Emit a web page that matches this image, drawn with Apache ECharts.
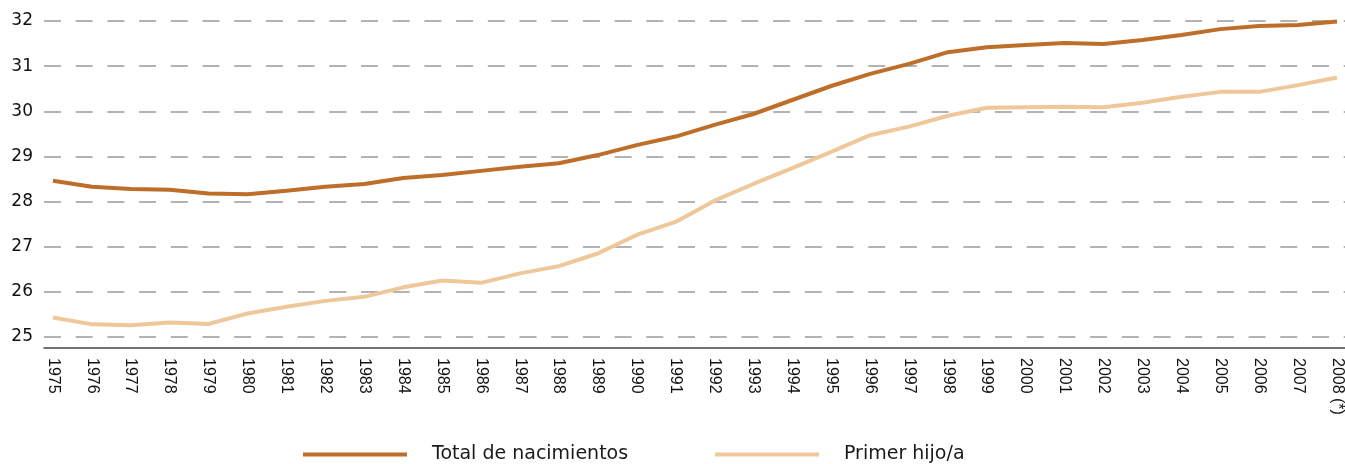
<!DOCTYPE html>
<html>
<head>
<meta charset="utf-8">
<title>Edad media de la madre</title>
<script src="https://cdn.jsdelivr.net/npm/echarts@6/dist/echarts.min.js"></script>
<style>
    html, body { margin: 0; padding: 0; background: #fff; }
    #chart { width: 1345px; height: 464px; }
</style>
</head>
<body>
<div id="chart"></div>
<script>
// años (eje x)
var years = ['1975', '1976', '1977', '1978', '1979', '1980', '1981', '1982', '1983', '1984',
    '1985', '1986', '1987', '1988', '1989', '1990', '1991', '1992', '1993', '1994',
    '1995', '1996', '1997', '1998', '1999', '2000', '2001', '2002', '2003', '2004',
    '2005', '2006', '2007', '2008 (*)'];
// edad media, total de nacimientos
var totalNacimientos = [28.46, 28.33, 28.28, 28.26, 28.18, 28.16, 28.24, 28.33, 28.39, 28.52,
    28.59, 28.68, 28.77, 28.85, 29.03, 29.25, 29.44, 29.70, 29.94, 30.25,
    30.56, 30.83, 31.05, 31.31, 31.42, 31.47, 31.51, 31.49, 31.58, 31.69,
    31.82, 31.89, 31.91, 31.99];
// edad media, primer hijo/a
var primerHijo = [25.43, 25.28, 25.26, 25.32, 25.29, 25.52, 25.67, 25.80, 25.89, 26.10,
    26.25, 26.20, 26.41, 26.57, 26.85, 27.26, 27.55, 28.02, 28.39, 28.74,
    29.10, 29.47, 29.66, 29.90, 30.08, 30.09, 30.10, 30.09, 30.19, 30.32,
    30.43, 30.43, 30.58, 30.75];
var seriesNames = ['Total de nacimientos', 'Primer hijo/a'];
var yMin = 25, yMax = 32, yStep = 1;

(function() {
    var colors = ['#BE6E28', '#EEC89B'];
    var myChart = echarts.init(document.getElementById('chart'));

    // leyenda: una por serie para colocar cada una donde va
    var legendFor = function(name, left) {
        return {
            data: [name],
            left: left,
            top: 445,
            padding: 0,
            icon: 'rect',
            itemWidth: 104,
            itemHeight: 4,
            textStyle: {
                fontFamily: 'DejaVu Sans',
                fontSize: 19,
                color: '#1a1a1a',
                padding: [0, 0, 0, 20]
            }
        };
    };

    var option = {
        animation: false,
        backgroundColor: '#fff',
        color: colors,
        legend: [legendFor(seriesNames[0], 303), legendFor(seriesNames[1], 715)],
        // grid 0: rejilla y eje; grid 1: las líneas
        grid: [
            { left: 44, right: 0, top: 21, bottom: 127 },
            { left: 53, right: 7, top: 21, bottom: 127 }
        ],
        xAxis: [{
            gridIndex: 0,
            type: 'value',
            min: 0,
            max: 1,
            offset: 11,
            axisLine: { show: true, lineStyle: { color: '#444', width: 1.5 } },
            axisTick: { show: false },
            axisLabel: { show: false },
            splitLine: { show: false }
        }, {
            gridIndex: 1,
            type: 'category',
            boundaryGap: false,
            data: years,
            offset: 11,
            axisLine: { show: false },
            axisTick: { show: false },
            axisLabel: {
                interval: 0,
                rotate: -90,
                margin: 10,
                fontFamily: 'Liberation Sans',
                fontSize: 16,
                color: '#111'
            },
            splitLine: { show: false }
        }],
        yAxis: [{
            gridIndex: 0,
            type: 'value',
            min: yMin,
            max: yMax,
            interval: yStep,
            axisLine: { show: false },
            axisTick: { show: false },
            axisLabel: {
                margin: 11,
                fontFamily: 'DejaVu Sans',
                fontSize: 17,
                color: '#111'
            },
            splitLine: {
                show: true,
                lineStyle: { color: '#9a9a9a', width: 1.5, type: [17, 14.7] }
            }
        }, {
            gridIndex: 1,
            type: 'value',
            min: yMin,
            max: yMax,
            interval: yStep,
            show: false
        }],
        series: [{
            name: seriesNames[0],
            type: 'line',
            xAxisIndex: 1,
            yAxisIndex: 1,
            data: totalNacimientos,
            showSymbol: false,
            lineStyle: { width: 4, color: colors[0] },
            itemStyle: { color: colors[0] }
        }, {
            name: seriesNames[1],
            type: 'line',
            xAxisIndex: 1,
            yAxisIndex: 1,
            data: primerHijo,
            showSymbol: false,
            lineStyle: { width: 4, color: colors[1] },
            itemStyle: { color: colors[1] }
        }]
    };
    myChart.setOption(option);
})();
</script>
</body>
</html>
